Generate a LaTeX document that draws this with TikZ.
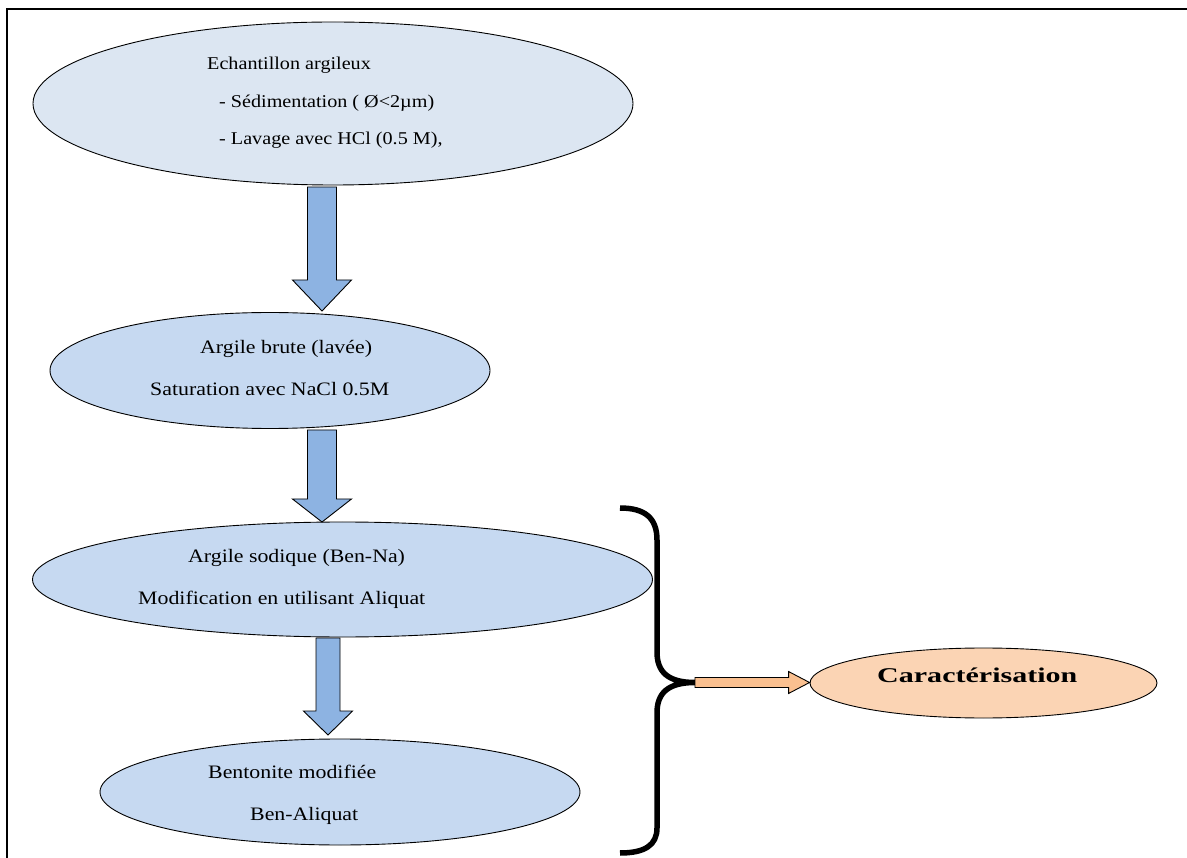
\documentclass[tikz,border=0pt]{standalone}
\usepackage{fontspec}
\setmainfont{Liberation Serif}
\usetikzlibrary{shapes.geometric,calc}
\definecolor{blueA}{HTML}{DCE6F2}
\definecolor{blueB}{HTML}{C6D9F1}
\definecolor{arrowblue}{HTML}{8DB3E2}
\definecolor{peach}{HTML}{FBD4B4}
\definecolor{orangearr}{HTML}{FAC090}
\tikzset{
  ell/.style={ellipse, draw=black, line width=0.9pt, inner sep=0pt},
  txtA/.style={inner sep=0pt, font=\fontsize{18}{21}\selectfont},
  txtB/.style={inner sep=0pt, font=\fontsize{19}{22}\selectfont},
  blockarr/.style={draw=black, line width=0.9pt, fill=arrowblue, line join=miter},
  orangearrow/.style={draw=black, line width=0.9pt, fill=orangearr, line join=miter},
  bracestyle/.style={line width=5.5pt, line cap=butt},
  frame/.style={line width=2pt}
}
\newcommand\sxA[1]{\scalebox{1.12}[1]{#1}}
\newcommand\sxB[1]{\scalebox{1.15}[1]{#1}}
% vertical block arrow: from coord, to coord, shaft half, head half, head length
\newcommand\vblockarrow[6]{%
  \draw[#6] let \p1=(#1), \p2=(#2) in
    (\x1-#3,\y1) -- (\x1+#3,\y1) -- (\x1+#3,\y2+#5) -- (\x1+#4,\y2+#5) --
    (\x1,\y2) -- (\x1-#4,\y2+#5) -- (\x1-#3,\y2+#5) -- cycle;}
% horizontal block arrow
\newcommand\hblockarrow[6]{%
  \draw[#6] let \p1=(#1), \p2=(#2) in
    (\x1,\y1+#3) -- (\x2-#5,\y1+#3) -- (\x2-#5,\y1+#4) -- (\x2,\y1) --
    (\x2-#5,\y1-#4) -- (\x2-#5,\y1-#3) -- (\x1,\y1-#3) -- cycle;}
\begin{document}
\begin{tikzpicture}[x=1pt,y=-1pt]
\useasboundingbox (0,0) rectangle (1187,858);
% frame
\draw[frame] (7,858) -- (7,9) -- (1187,9);

% ellipses
\node[ell, fill=blueA, minimum width=600pt, minimum height=163pt] (e1) at (333,103.5) {};
\node[ell, fill=blueB, minimum width=440pt, minimum height=116pt] (e2) at (270,370.5) {};
\node[ell, fill=blueB, minimum width=620pt, minimum height=115pt] (e3) at (342.5,579.5) {};
\node[ell, fill=blueB, minimum width=480pt, minimum height=106pt] (e4) at (340,792) {};
\node[ell, fill=peach, minimum width=347pt, minimum height=70pt] (car) at (983.5,683) {};

% texts
\node[txtA, anchor=base west] (t1a) at (207,70) {\sxA{Echantillon argileux}};
\node[txtA, anchor=base west] (t1b) at (219,108) {\sxA{- Sédimentation ( Ø<2µm)}};
\node[txtA, anchor=base west] (t1c) at (219,145) {\sxA{- Lavage avec HCl (0.5 M),}};
\node[txtB, anchor=base west] (t2a) at (200,354) {\sxB{Argile brute (lavée)}};
\node[txtB, anchor=base west] (t2b) at (150,396) {\sxB{Saturation avec NaCl 0.5M}};
\node[txtB, anchor=base west] (t3a) at (188,562) {\sxB{Argile sodique (Ben-Na)}};
\node[txtB, anchor=base west] (t3b) at (138,605) {\sxB{Modification en utilisant Aliquat}};
\node[txtB, anchor=base west] (t4a) at (208,778) {\sxB{Bentonite modifiée}};
\node[txtB, anchor=base west] (t4b) at (250,820) {\sxB{Ben-Aliquat}};
\node[inner sep=0pt, anchor=base west, font=\fontsize{21}{24}\selectfont\bfseries] (tc) at (877,682) {\scalebox{1.43}[1]{Caractérisation}};

% block arrows
\coordinate (a1s) at (322,187);   \coordinate (a1e) at (322,311);
\coordinate (a2s) at (322,430);   \coordinate (a2e) at (322,522);
\coordinate (a3s) at (328,638);   \coordinate (a3e) at (328,735);
\vblockarrow{a1s}{a1e}{14.5pt}{29.5pt}{31pt}{blockarr}
\vblockarrow{a2s}{a2e}{14.5pt}{29.5pt}{23pt}{blockarr}
\vblockarrow{a3s}{a3e}{12pt}{24.5pt}{24pt}{blockarr}

% brace
\coordinate (bt) at (695,682.5);
\draw[bracestyle] (620,508) .. controls (645,508) and (657,518) .. (657,540)
  -- (657,652) .. controls (657,672) and (668,682.5) .. (bt)
  .. controls (668,682.5) and (657,693) .. (657,713)
  -- (657,828) .. controls (657,845) and (645,853) .. (620,853);

% orange arrow
\hblockarrow{bt}{car.west}{5pt}{11pt}{21pt}{orangearrow}
\end{tikzpicture}
\end{document}
